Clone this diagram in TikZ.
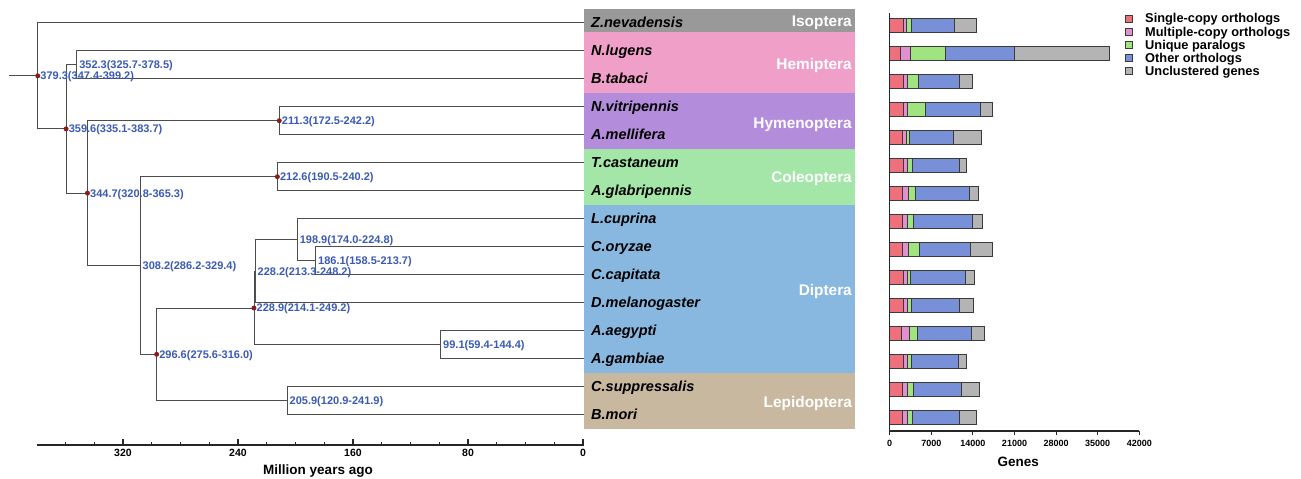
\documentclass[tikz,border=0pt]{standalone}
\usepackage{fontspec}
\setmainfont{Liberation Sans}
\definecolor{linegray}{HTML}{4D4D4D}
\definecolor{dotred}{HTML}{8B1C1C}
\definecolor{ageblue}{HTML}{3A5AB6}
\definecolor{cIso}{HTML}{999999}
\definecolor{cHem}{HTML}{F0A0C8}
\definecolor{cHym}{HTML}{B48CDC}
\definecolor{cCol}{HTML}{A4E6A8}
\definecolor{cDip}{HTML}{88B8E0}
\definecolor{cLep}{HTML}{C8B8A0}
\definecolor{cSC}{HTML}{EE707C}
\definecolor{cMC}{HTML}{E090D0}
\definecolor{cUP}{HTML}{A0E480}
\definecolor{cOO}{HTML}{7890D8}
\definecolor{cUG}{HTML}{B4B4B4}
\definecolor{segline}{HTML}{3A3A3A}
\begin{document}
\begin{tikzpicture}[x=1pt,y=-1pt,
  br/.style={draw=linegray, line width=0.9pt},
  age/.style={anchor=west, inner sep=0pt, text=ageblue, xshift=2.5pt,
    text height=7.9pt, text depth=0pt, font=\bfseries\fontsize{11}{11}\selectfont},
  dot/.style={circle, fill=dotred, inner sep=0pt, minimum size=5pt},
  sp/.style={anchor=west, inner sep=0pt, text height=10.4pt, text depth=0pt,
    font=\bfseries\itshape\fontsize{14.5}{14.5}\selectfont},
  ord/.style={anchor=east, inner sep=0pt, text=white, text height=11pt, text depth=0pt,
    font=\bfseries\fontsize{15.4}{15.4}\selectfont},
  axisline/.style={draw=black!85, line width=1.1pt},
  ticklab/.style={inner sep=0pt, text height=7.6pt, text depth=0pt,
    font=\bfseries\fontsize{10.5}{10.5}\selectfont},
  gticklab/.style={inner sep=0pt, text height=6.5pt, text depth=0pt,
    font=\bfseries\fontsize{9}{9}\selectfont},
  axtitle/.style={inner sep=0pt, text height=9.7pt, text depth=0pt,
    font=\bfseries\fontsize{13.5}{13.5}\selectfont},
  seg/.style={draw=segline, line width=0.7pt},
  legsq/.style={draw=segline, line width=0.6pt, minimum size=7pt, inner sep=0pt},
  legtxt/.style={anchor=west, inner sep=0pt, text height=9.2pt, text depth=0pt,
    font=\bfseries\fontsize{12.8}{12.8}\selectfont}
]
\useasboundingbox (0,0) rectangle (1301,479);

% ---------- colour bands ----------
\fill[cIso] (584,8.7) rectangle (855,32);
\fill[cHem] (584,32) rectangle (855,92.7);
\fill[cHym] (584,92.7) rectangle (855,148.7);
\fill[cCol] (584,148.7) rectangle (855,204.7);
\fill[cDip] (584,204.7) rectangle (855,372.7);
\fill[cLep] (584,372.7) rectangle (855,428.7);

\node[ord] (oIso) at (852,21.5) {Isoptera};
\node[ord] (oHem) at (852,64.3) {Hemiptera};
\node[ord] (oHym) at (852,122.5) {Hymenoptera};
\node[ord] (oCol) at (852,176.5) {Coleoptera};
\node[ord] (oDip) at (852,289.5) {Diptera};
\node[ord] (oLep) at (852,401.5) {Lepidoptera};

% ---------- leaves ----------
\foreach \i/\name in {0/Z.nevadensis,1/N.lugens,2/B.tabaci,3/N.vitripennis,4/A.mellifera,
  5/T.castaneum,6/A.glabripennis,7/L.cuprina,8/C.oryzae,9/C.capitata,10/D.melanogaster,
  11/A.aegypti,12/A.gambiae,13/C.suppressalis,14/B.mori}{
  \coordinate (L\i) at (584,22.7+28*\i);
  \node[sp] (S\i) at (591,22.7+28*\i) {\name};
}

% ---------- internal nodes (x from age) ----------
\def\ax#1{583-1.4375*#1}
\coordinate (stem) at (9,75.8);
\coordinate (n3793) at ({\ax{379.3}},75.8);
\coordinate (n3596) at ({\ax{359.6}},128.9);
\coordinate (n3523) at ({\ax{352.3}},64.7);
\coordinate (n3447) at ({\ax{344.7}},193.1);
\coordinate (n2113) at ({\ax{211.3}},120.7);
\coordinate (n3082) at ({\ax{308.2}},265.5);
\coordinate (n2126) at ({\ax{212.6}},176.7);
\coordinate (n2966) at ({\ax{296.6}},354.3);
\coordinate (n2289) at ({\ax{228.9}},308.0);
\coordinate (n2282) at ({\ax{228.2}},271.2);
\coordinate (n1989) at ({\ax{198.9}},239.7);
\coordinate (n1861) at ({\ax{186.1}},260.7);
\coordinate (n991) at ({\ax{99.1}},344.7);
\coordinate (n2059) at ({\ax{205.9}},400.7);

% ---------- branches ----------
\draw[br] (stem) -- (n3793);
\draw[br] (n3793) |- (L0);   \draw[br] (n3793) |- (n3596);
\draw[br] (n3596) |- (n3523); \draw[br] (n3596) |- (n3447);
\draw[br] (n3523) |- (L1);   \draw[br] (n3523) |- (L2);
\draw[br] (n3447) |- (n2113); \draw[br] (n3447) |- (n3082);
\draw[br] (n2113) |- (L3);   \draw[br] (n2113) |- (L4);
\draw[br] (n3082) |- (n2126); \draw[br] (n3082) |- (n2966);
\draw[br] (n2126) |- (L5);   \draw[br] (n2126) |- (L6);
\draw[br] (n2966) |- (n2289); \draw[br] (n2966) |- (n2059);
\draw[br] (n2289) |- (n2282); \draw[br] (n2289) |- (n991);
\draw[br] (n2282) |- (n1989); \draw[br] (n2282) |- (L10);
\draw[br] (n1989) |- (L7);   \draw[br] (n1989) |- (n1861);
\draw[br] (n1861) |- (L8);   \draw[br] (n1861) |- (L9);
\draw[br] (n991) |- (L11);   \draw[br] (n991) |- (L12);
\draw[br] (n2059) |- (L13);  \draw[br] (n2059) |- (L14);

% ---------- calibration dots ----------
\foreach \n in {n3793,n3596,n3447,n2113,n2126,n2966,n2289}{
  \node[dot] (d\n) at (\n) {};
}

% ---------- age labels ----------
\node[age] (a3793) at (n3793) {379.3(347.4-399.2)};
\node[age] (a3596) at (n3596) {359.6(335.1-383.7)};
\node[age] (a3523) at (n3523) {352.3(325.7-378.5)};
\node[age] (a3447) at (n3447) {344.7(320.8-365.3)};
\node[age] (a2113) at (n2113) {211.3(172.5-242.2)};
\node[age] (a3082) at (n3082) {308.2(286.2-329.4)};
\node[age] (a2126) at (n2126) {212.6(190.5-240.2)};
\node[age] (a2966) at (n2966) {296.6(275.6-316.0)};
\node[age] (a2289) at (n2289) {228.9(214.1-249.2)};
\node[age] (a2282) at (n2282) {228.2(213.3-248.2)};
\node[age] (a1989) at (n1989) {198.9(174.0-224.8)};
\node[age] (a1861) at (n1861) {186.1(158.5-213.7)};
\node[age] (a991) at (n991) {99.1(59.4-144.4)};
\node[age] (a2059) at (n2059) {205.9(120.9-241.9)};

% ---------- time axis ----------
\coordinate (tax0) at (37.3,445);
\coordinate (tax1) at (583.5,445);
\draw[axisline] (tax0) -- (tax1);
\foreach \t in {320,240,160,80,0}{
  \draw[axisline] ({\ax{\t}},445) -- ++(0,-6);
  \node[ticklab] (tl\t) at ({\ax{\t}},453) {\t};
}
\foreach \t in {360,340,300,280,260,220,200,180,140,120,100,60,40,20}{
  \draw[axisline] ({\ax{\t}},445) -- ++(0,-3.5);
}
\node[axtitle] (ttitle) at (318,470) {Million years ago};

% ---------- bar chart ----------
\foreach \i/\a/\b/\c/\d/\e in {
  0/903.3/906/911/954.3/976.7,
  1/900.3/910.7/945.7/1014/1109,
  2/903/907.3/918.7/959.3/972.7,
  3/903/907.3/925.3/980.3/992.7,
  4/902.7/906.7/909.3/953.3/981,
  5/903/907.7/912.3/959.3/966.7,
  6/902.3/908.7/915/969.3/978.3,
  7/902.7/907.3/913.3/972.7/982.7,
  8/902.3/908.7/919.7/970.7/992.7,
  9/903.3/907.3/910.3/965.3/974.7,
  10/903.3/907.3/911.7/959.7/973,
  11/901.3/909.3/917/971.7/984,
  12/903/907.3/911/958.7/966.3,
  13/902.7/907.7/913.3/961.3/979,
  14/902.7/907.7/912.3/959/976.7}{
  \pgfmathsetmacro\yt{25.5+28*\i-6.7}
  \pgfmathsetmacro\yb{25.5+28*\i+6.7}
  \draw[seg,fill=cSC] (889.7,\yt) rectangle (\a,\yb);
  \draw[seg,fill=cMC] (\a,\yt) rectangle (\b,\yb);
  \draw[seg,fill=cUP] (\b,\yt) rectangle (\c,\yb);
  \draw[seg,fill=cOO] (\c,\yt) rectangle (\d,\yb);
  \draw[seg,fill=cUG] (\d,\yt) rectangle (\e,\yb);
}
\coordinate (gtop) at (889.7,12.7);
\coordinate (gorig) at (889.7,431);
\coordinate (gend) at (1139.3,431);
\draw[axisline] (gtop) -- (gorig) -- (gend);
\foreach \k/\v in {0/0,1/7000,2/14000,3/21000,4/28000,5/35000,6/42000}{
  \draw[axisline] (889.7+41.6*\k,431) -- ++(0,3.5);
  \node[gticklab] (gl\k) at (889.7+41.6*\k,443.3) {\v};
}
\node[axtitle] (gtitle) at (1018.3,461.7) {Genes};

% ---------- legend ----------
\foreach \j/\col/\txt in {0/cSC/Single-copy orthologs,1/cMC/Multiple-copy orthologs,
  2/cUP/Unique paralogs,3/cOO/Other orthologs,4/cUG/Unclustered genes}{
  \node[legsq,fill=\col] (Q\j) at (1128.5,18.3+13.1*\j) {};
  \node[legtxt] (T\j) at (1145,18.3+13.1*\j) {\txt};
}
\end{tikzpicture}
\end{document}
